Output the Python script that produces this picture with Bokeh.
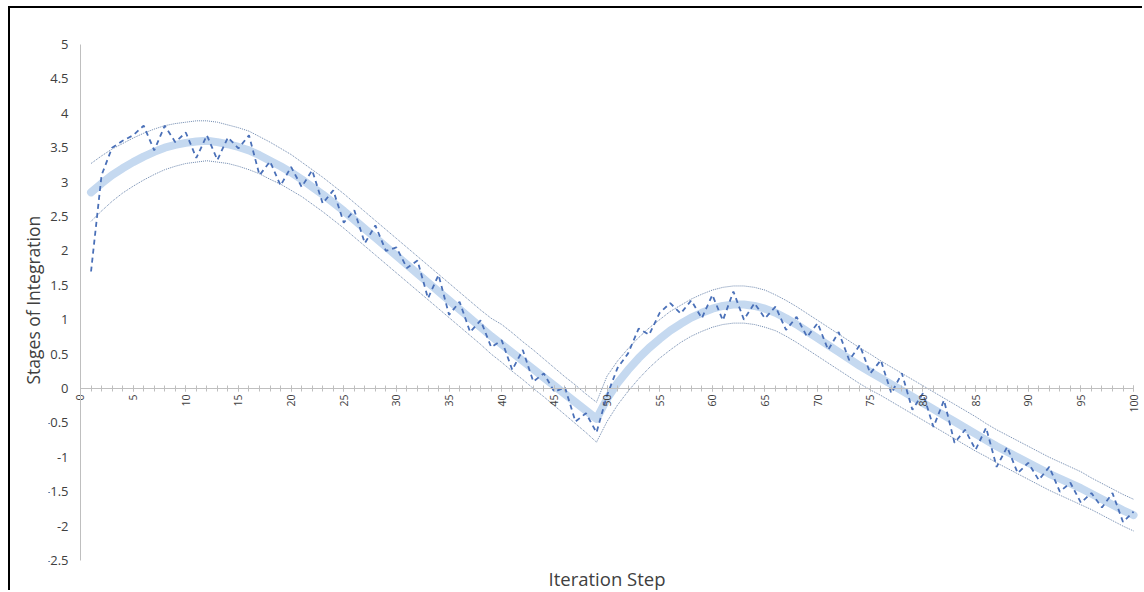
import math
from bokeh.plotting import figure
from bokeh.models import LinearAxis, FixedTicker, CustomJSTickFormatter, Range1d, ColumnDataSource, Title
from bokeh.embed import file_html
from bokeh.resources import INLINE

# ---- data ----
steps = list(range(1, 101))

trend = [
    2.85, 2.98, 3.10, 3.20, 3.29, 3.37, 3.44, 3.50, 3.54, 3.57,
    3.59, 3.60, 3.58, 3.55, 3.51, 3.46, 3.39, 3.31, 3.23, 3.14,
    3.04, 2.93, 2.82, 2.70, 2.58, 2.45, 2.32, 2.19, 2.06, 1.93,
    1.80, 1.67, 1.54, 1.41, 1.28, 1.15, 1.02, 0.89, 0.76, 0.64,
    0.52, 0.40, 0.28, 0.16, 0.04, -0.08, -0.20, -0.32, -0.44, -0.15,
    0.08, 0.27, 0.44, 0.59, 0.72, 0.84, 0.94, 1.03, 1.10, 1.16,
    1.20, 1.22, 1.22, 1.20, 1.16, 1.10, 1.02, 0.93, 0.83, 0.73,
    0.63, 0.53, 0.43, 0.33, 0.24, 0.15, 0.06, -0.03, -0.12, -0.21,
    -0.30, -0.39, -0.48, -0.57, -0.66, -0.75, -0.84, -0.92, -1.00, -1.08,
    -1.16, -1.24, -1.31, -1.38, -1.45, -1.53, -1.61, -1.69, -1.77, -1.84,
]

upper = [
    3.27, 3.38, 3.48, 3.56, 3.64, 3.71, 3.77, 3.82, 3.85, 3.87,
    3.89, 3.89, 3.87, 3.83, 3.79, 3.74, 3.66, 3.58, 3.49, 3.40,
    3.29, 3.18, 3.07, 2.95, 2.83, 2.70, 2.57, 2.44, 2.31, 2.18,
    2.05, 1.92, 1.79, 1.66, 1.53, 1.40, 1.27, 1.14, 1.02, 0.93,
    0.81, 0.68, 0.56, 0.43, 0.30, 0.17, 0.05, -0.08, -0.20, 0.18,
    0.40, 0.58, 0.74, 0.88, 1.00, 1.12, 1.21, 1.30, 1.37, 1.43,
    1.47, 1.49, 1.49, 1.47, 1.43, 1.36, 1.28, 1.19, 1.09, 0.99,
    0.89, 0.79, 0.69, 0.59, 0.50, 0.40, 0.31, 0.22, 0.13, 0.04,
    -0.05, -0.14, -0.23, -0.32, -0.41, -0.51, -0.60, -0.68, -0.76, -0.84,
    -0.92, -1.00, -1.07, -1.14, -1.21, -1.30, -1.38, -1.46, -1.54, -1.61,
]

lower = [
    2.43, 2.58, 2.72, 2.84, 2.94, 3.03, 3.11, 3.18, 3.23, 3.27,
    3.29, 3.31, 3.29, 3.27, 3.23, 3.18, 3.12, 3.04, 2.97, 2.88,
    2.79, 2.68, 2.57, 2.45, 2.33, 2.20, 2.07, 1.94, 1.81, 1.68,
    1.55, 1.42, 1.29, 1.16, 1.03, 0.90, 0.77, 0.64, 0.50, 0.38,
    0.25, 0.13, 0.00, -0.12, -0.25, -0.38, -0.51, -0.64, -0.78, -0.48,
    -0.24, -0.04, 0.14, 0.30, 0.44, 0.56, 0.67, 0.76, 0.83, 0.89,
    0.93, 0.95, 0.95, 0.93, 0.89, 0.84, 0.76, 0.67, 0.57, 0.47,
    0.37, 0.27, 0.17, 0.07, -0.02, -0.10, -0.19, -0.28, -0.37, -0.46,
    -0.55, -0.64, -0.73, -0.82, -0.91, -0.99, -1.08, -1.16, -1.24, -1.32,
    -1.40, -1.48, -1.55, -1.62, -1.69, -1.76, -1.84, -1.92, -2.00, -2.07,
]

observed = [
    1.70, 3.10, 3.50, 3.60, 3.68, 3.82, 3.46, 3.82, 3.58, 3.72,
    3.35, 3.68, 3.32, 3.65, 3.49, 3.68, 3.10, 3.30, 2.95, 3.22,
    2.93, 3.17, 2.69, 2.88, 2.41, 2.59, 2.11, 2.37, 2.00, 2.05,
    1.75, 1.86, 1.31, 1.65, 1.07, 1.26, 0.82, 0.99, 0.60, 0.70,
    0.27, 0.56, 0.10, 0.22, -0.05, 0.02, -0.48, -0.36, -0.64, -0.10,
    0.30, 0.51, 0.87, 0.78, 1.10, 1.24, 1.09, 1.28, 1.02, 1.36,
    0.99, 1.41, 1.00, 1.24, 1.02, 1.19, 0.85, 1.04, 0.75, 0.95,
    0.56, 0.82, 0.41, 0.63, 0.22, 0.41, -0.07, 0.22, -0.31, -0.07,
    -0.56, -0.17, -0.79, -0.60, -0.89, -0.57, -1.14, -0.85, -1.23, -1.08,
    -1.33, -1.14, -1.50, -1.37, -1.66, -1.52, -1.73, -1.52, -1.94, -1.79,
]

x_ticks = list(range(0, 101, 5))
x_minor = list(range(0, 101, 1))
y_ticks = [-2.5, -2, -1.5, -1, -0.5, 0, 0.5, 1, 1.5, 2, 2.5, 3, 3.5, 4, 4.5, 5]

x_title = "Iteration Step"
y_title = "Stages of Integration"

FONT = "Open Sans"
LABEL_COLOR = "#404040"
TITLE_COLOR = "#404040"
AXIS_COLOR = "#bfbfbf"

src = ColumnDataSource(dict(step=steps, trend=trend, upper=upper, lower=lower, observed=observed))

# Frame extends a little beyond the axis extents so that the tick labels of
# the axes drawn at x = 0 and y = 0 are not clipped.
p = figure(
    width=1134, height=584,
    x_range=Range1d(-3.039, 101.04), y_range=Range1d(-2.5725, 5.348),
    x_axis_location=None, y_axis_location=None,
    output_backend="svg", toolbar_location=None,
    min_border_left=38, min_border_right=0, min_border_top=12, min_border_bottom=26,
)
p.styles = {"margin-left": "8px", "margin-top": "6px",
            "border-left": "2px solid #000", "border-top": "2px solid #000"}
p.background_fill_color = "white"
p.border_fill_color = "white"
p.outline_line_color = None

# axis titles (offset from the frame's left / bottom edge)
p.add_layout(Title(text=x_title, align="left", offset=500, standoff=0,
                   vertical_align="top",
                   text_font=FONT, text_font_size="18.5px", text_font_style="normal",
                   text_color=TITLE_COLOR), "below")
p.add_layout(Title(text=y_title, align="left", offset=181, standoff=7,
                   text_font=FONT, text_font_size="17.5px", text_font_style="normal",
                   text_color=TITLE_COLOR), "left")

# x axis drawn at y = 0
zx = LinearAxis(
    fixed_location=0,
    bounds=(x_ticks[0], x_ticks[-1]),
    ticker=FixedTicker(ticks=x_ticks, minor_ticks=x_minor),
    major_label_orientation=math.pi / 2,
)
zx.axis_line_color = AXIS_COLOR
zx.axis_line_width = 1
zx.major_tick_line_color = AXIS_COLOR
zx.minor_tick_line_color = AXIS_COLOR
zx.major_tick_in = 3
zx.major_tick_out = 3
zx.minor_tick_in = 3
zx.minor_tick_out = 3
zx.major_label_standoff = 3
zx.major_label_text_font = FONT
zx.major_label_text_font_size = "10.5px"
zx.major_label_text_color = LABEL_COLOR
p.add_layout(zx, "below")

# y axis drawn at x = 0
zy = LinearAxis(
    fixed_location=0,
    bounds=(y_ticks[0], y_ticks[-1]),
    ticker=FixedTicker(ticks=y_ticks),
    formatter=CustomJSTickFormatter(code="return tick.toString();"),
)
zy.axis_line_color = AXIS_COLOR
zy.major_tick_line_color = None
zy.minor_tick_line_color = None
zy.major_tick_out = 0
zy.major_tick_in = 0
zy.major_label_standoff = 12
zy.major_label_text_font = FONT
zy.major_label_text_font_size = "13px"
zy.major_label_text_color = LABEL_COLOR
p.add_layout(zy, "left")

p.grid.visible = False

# series
p.line("step", "trend", source=src, line_width=8, line_color="#c5d9f0",
       line_cap="round", line_join="round")
p.line("step", "upper", source=src, line_width=1, line_color="#6d87ad", line_dash="1 1")
p.line("step", "lower", source=src, line_width=1, line_color="#6d87ad", line_dash="1 1")
p.line("step", "observed", source=src, line_width=1.8, line_color="#4a70b8", line_dash="5 4")

open("out.html", "w").write(file_html(p, INLINE))
